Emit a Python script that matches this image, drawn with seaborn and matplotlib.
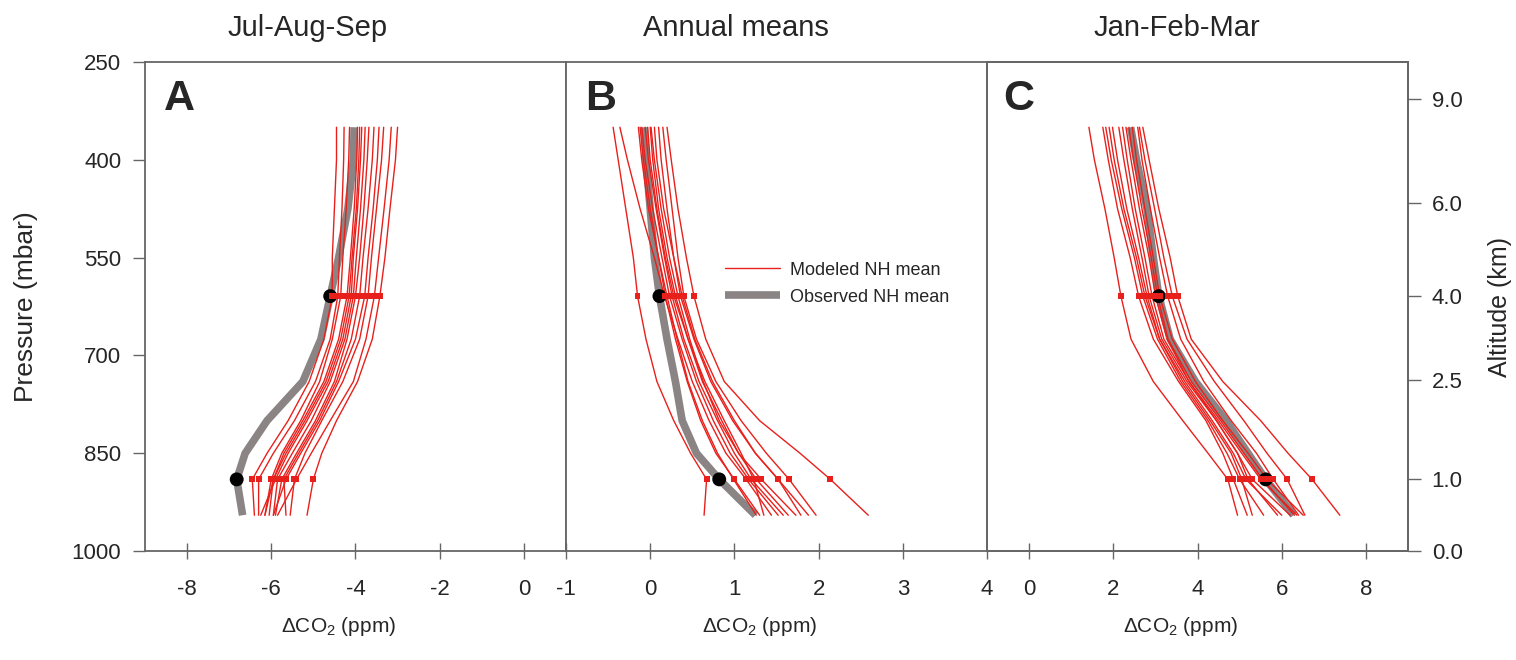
import numpy as np
import pandas as pd
import matplotlib
matplotlib.use("Agg")
import matplotlib.pyplot as plt
from matplotlib.lines import Line2D
import seaborn as sns

# pressure levels (mbar) of the profiles, 609 ~ 4 km and 890 ~ 1 km
levels = [350, 400, 475, 550, 609, 675, 740, 800, 850, 890, 945]
dot_levels = [609, 890]

titles = ["Jul-Aug-Sep", "Annual means", "Jan-Feb-Mar"]
letters = ["A", "B", "C"]

# observed NH mean profiles
obs_jas = [-4.03, -4.05, -4.18, -4.4, -4.6, -4.82, -5.25, -6.1, -6.62, -6.82, -6.68]
obs_ann = [-0.07, -0.05, 0.0, 0.05, 0.11, 0.2, 0.3, 0.38, 0.55, 0.82, 1.25]
obs_jfm = [2.41, 2.55, 2.8, 2.95, 3.08, 3.35, 3.95, 4.68, 5.2, 5.62, 6.28]

# modeled NH mean profiles
mod_jas = [
    [-4.45, -4.45, -4.5, -4.55, -4.55, -4.75, -5.1, -5.6, -6.1, -6.45, -6.4],
    [-4.27, -4.28, -4.32, -4.38, -4.42, -4.6, -4.95, -5.45, -5.95, -6.3, -6.3],
    [-4.14, -4.16, -4.22, -4.3, -4.35, -4.55, -4.85, -5.3, -5.75, -6.0, -6.15],
    [-3.95, -3.97, -4.03, -4.12, -4.2, -4.4, -4.75, -5.25, -5.7, -5.95, -6.05],
    [-3.85, -3.88, -3.95, -4.05, -4.1, -4.3, -4.65, -5.15, -5.6, -5.9, -6.25],
    [-3.77, -3.8, -3.88, -3.98, -4.05, -4.25, -4.6, -5.05, -5.5, -5.85, -5.95],
    [-3.68, -3.72, -3.8, -3.9, -4.0, -4.2, -4.5, -4.95, -5.4, -5.75, -5.9],
    [-3.56, -3.6, -3.7, -3.82, -3.9, -4.1, -4.45, -4.9, -5.35, -5.7, -5.65],
    [-3.44, -3.48, -3.58, -3.7, -3.78, -4.0, -4.4, -4.85, -5.3, -5.65, -5.95],
    [-3.33, -3.38, -3.5, -3.62, -3.7, -3.9, -4.3, -4.8, -5.2, -5.45, -5.55],
    [-3.15, -3.2, -3.32, -3.45, -3.55, -3.75, -4.05, -4.6, -5.05, -5.4, -5.85],
    [-3.0, -3.05, -3.18, -3.3, -3.42, -3.6, -3.95, -4.45, -4.8, -5.0, -5.15],
    [-3.9, -3.92, -3.98, -4.08, -4.15, -4.35, -4.7, -5.2, -5.65, -5.95, -6.15],
]
mod_ann = [
    [-0.44, -0.38, -0.29, -0.2, -0.15, -0.05, 0.08, 0.28, 0.48, 0.67, 0.64],
    [-0.36, -0.27, -0.12, 0.05, 0.17, 0.33, 0.5, 0.7, 0.9, 1.14, 1.44],
    [-0.14, -0.1, -0.02, 0.1, 0.2, 0.32, 0.45, 0.62, 0.8, 0.99, 1.26],
    [-0.1, -0.06, 0.03, 0.14, 0.23, 0.38, 0.55, 0.75, 0.95, 1.17, 1.52],
    [-0.06, -0.02, 0.07, 0.17, 0.26, 0.4, 0.58, 0.8, 1.0, 1.2, 1.58],
    [-0.03, 0.0, 0.08, 0.18, 0.28, 0.45, 0.65, 0.88, 1.08, 1.23, 1.35],
    [0.0, 0.03, 0.1, 0.2, 0.3, 0.45, 0.62, 0.85, 1.05, 1.26, 1.64],
    [0.01, 0.05, 0.13, 0.23, 0.33, 0.47, 0.63, 0.82, 1.05, 1.32, 1.73],
    [0.1, 0.13, 0.2, 0.28, 0.36, 0.52, 0.72, 0.98, 1.25, 1.52, 1.79],
    [0.15, 0.19, 0.26, 0.33, 0.4, 0.55, 0.78, 1.08, 1.38, 1.65, 1.97],
    [0.2, 0.25, 0.33, 0.43, 0.52, 0.66, 0.88, 1.3, 1.78, 2.14, 2.59],
    [-0.12, -0.08, 0.0, 0.1, 0.18, 0.3, 0.44, 0.6, 0.78, 1.0, 1.3],
    [0.05, 0.08, 0.16, 0.28, 0.38, 0.53, 0.74, 1.0, 1.25, 1.52, 1.88],
]
mod_jfm = [
    [1.42, 1.55, 1.8, 2.02, 2.18, 2.42, 2.95, 3.65, 4.25, 4.72, 4.95],
    [1.75, 1.88, 2.1, 2.4, 2.6, 2.95, 3.55, 4.2, 4.6, 4.85, 5.18],
    [1.82, 1.95, 2.2, 2.5, 2.7, 3.05, 3.6, 4.25, 4.7, 5.0, 5.57],
    [1.9, 2.02, 2.25, 2.55, 2.75, 3.1, 3.7, 4.35, 4.85, 5.15, 6.0],
    [2.13, 2.25, 2.45, 2.68, 2.85, 3.15, 3.75, 4.45, 4.95, 5.3, 6.2],
    [2.22, 2.33, 2.52, 2.75, 2.92, 3.2, 3.8, 4.5, 5.05, 5.5, 6.36],
    [2.37, 2.48, 2.68, 2.9, 3.05, 3.3, 3.85, 4.55, 5.1, 5.55, 6.3],
    [2.45, 2.55, 2.75, 2.95, 3.1, 3.4, 3.95, 4.6, 5.2, 5.65, 6.51],
    [2.58, 2.68, 2.88, 3.1, 3.29, 3.6, 4.15, 4.8, 5.4, 5.8, 6.4],
    [2.62, 2.75, 2.98, 3.2, 3.4, 3.75, 4.4, 5.1, 5.65, 6.13, 6.55],
    [2.7, 2.85, 3.08, 3.35, 3.53, 3.85, 4.6, 5.5, 6.15, 6.72, 7.38],
    [1.98, 2.1, 2.32, 2.6, 2.8, 3.1, 3.65, 4.3, 4.8, 5.05, 5.3],
    [2.3, 2.42, 2.62, 2.85, 3.0, 3.28, 3.8, 4.45, 4.95, 5.2, 5.9],
]

xlims = [(-9, 1), (-1, 4), (-1, 9)]
xticks = [[-8, -6, -4, -2, 0], [-1, 0, 1, 2, 3, 4], [0, 2, 4, 6, 8]]
pressure_ticks = [250, 400, 550, 700, 850, 1000]
alt_ticks_p = [307, 466, 609, 738, 890, 1000]
alt_labels = ["9.0", "6.0", "4.0", "2.5", "1.0", "0.0"]

observed = [obs_jas, obs_ann, obs_jfm]
modeled = [mod_jas, mod_ann, mod_jfm]

red = "#e8201c"
grey = "#8a8484"
spine_col = "#666666"

sns.set_style("white")
plt.rcParams["font.family"] = ["Liberation Sans", "DejaVu Sans"]
plt.rcParams["mathtext.fontset"] = "custom"
plt.rcParams["mathtext.rm"] = "Liberation Sans"
plt.rcParams["mathtext.it"] = "Liberation Sans:italic"

fig, axes = plt.subplots(1, 3, figsize=(15.16, 6.6), dpi=100, sharey=True)
fig.subplots_adjust(left=0.0956, right=0.9288, bottom=0.165, top=0.906, wspace=0)

dot_idx = [levels.index(p) for p in dot_levels]
title_x = [0.386, 0.403, 0.451]
letter_x = [0.045, 0.045, 0.038]

for i, ax in enumerate(axes):
    rows = []
    for m, prof in enumerate(modeled[i]):
        for p, v in zip(levels, prof):
            rows.append({"model": m, "p": p, "dco2": v})
    df = pd.DataFrame(rows)

    # observed mean (thick grey)
    sns.lineplot(x=observed[i], y=levels, orient="y", sort=False, color=grey,
                 lw=5.5, solid_capstyle="butt", ax=ax, zorder=2)
    # modeled profiles (thin red)
    sns.lineplot(data=df, x="dco2", y="p", units="model", estimator=None,
                 orient="y", sort=False, color=red, lw=1.0, ax=ax, zorder=3)
    # black dots for observed at 4 km and 1 km
    sns.scatterplot(x=[observed[i][k] for k in dot_idx], y=dot_levels, color="black",
                    s=100, edgecolor="none", ax=ax, zorder=4)
    # red dots for models at 4 km and 1 km
    dots = df[df["p"].isin(dot_levels)]
    sns.scatterplot(data=dots, x="dco2", y="p", color=red, marker="s", s=18,
                    edgecolor="none", ax=ax, zorder=5)

    ax.set_xlim(*xlims[i])
    ax.set_xticks(xticks[i])
    ax.set_xticklabels([str(t) for t in xticks[i]])
    ax.set_ylim(1000, 250)
    ax.set_xlabel("ΔCO$_2$ (ppm)", fontsize=15)
    ax.xaxis.set_label_coords(0.46, -0.13)
    ax.set_ylabel("")
    ax.set_title(titles[i], fontsize=21, x=title_x[i], pad=19)
    ax.text(letter_x[i], 0.965, letters[i], transform=ax.transAxes, fontsize=31,
            fontweight="bold", va="top", ha="left")
    ax.tick_params(axis="x", bottom=True, direction="inout", length=12, width=1,
                   labelsize=16, pad=14, color=spine_col)
    ax.tick_params(axis="y", left=(i == 0), direction="out", length=9, width=1,
                   labelsize=16, pad=8, color=spine_col)
    for s in ax.spines.values():
        s.set_color(spine_col)
        s.set_linewidth(1.3)

axes[0].set_yticks(pressure_ticks)
axes[0].set_ylabel("Pressure (mbar)", fontsize=19)
axes[0].yaxis.set_label_coords(-0.255, 0.5)

ax2 = axes[2].twinx()
ax2.set_ylim(1000, 250)
ax2.set_yticks(alt_ticks_p)
ax2.set_yticklabels(alt_labels)
ax2.tick_params(axis="y", right=True, direction="out", length=9, width=1,
                labelsize=16, pad=8, color=spine_col)
ax2.set_ylabel("Altitude (km)", fontsize=18, labelpad=18)
for s in ax2.spines.values():
    s.set_color(spine_col)
    s.set_linewidth(1.3)
# twinx turns the left ticks of panel C back on
axes[2].tick_params(axis="y", left=False)

handles = [Line2D([], [], color=red, lw=1),
           Line2D([], [], color=grey, lw=5.5, solid_capstyle="butt")]
axes[1].legend(handles, ["Modeled NH mean", "Observed NH mean"], frameon=False,
               fontsize=13, handlelength=3.0, handletextpad=0.6, loc="upper left",
               bbox_to_anchor=(0.34, 0.625), labelspacing=0.55)

fig.savefig("out.png", dpi=100)
